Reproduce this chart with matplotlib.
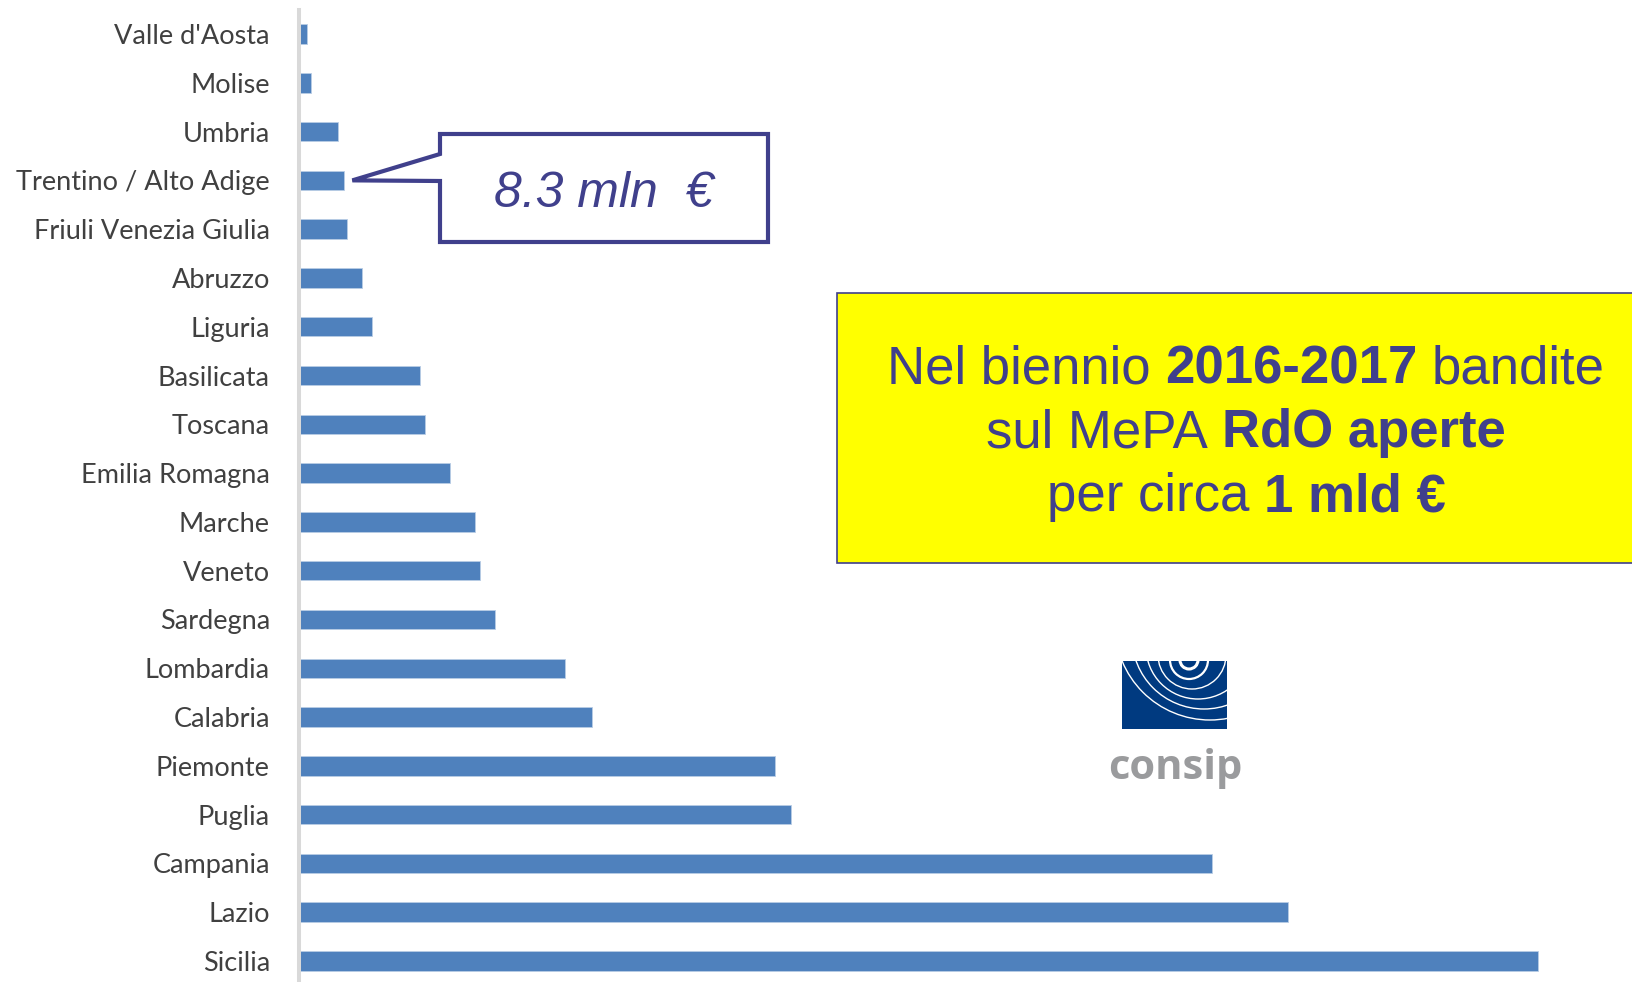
import matplotlib
matplotlib.use("Agg")
import matplotlib.pyplot as plt
from matplotlib.patches import Polygon, Rectangle, Circle

# RdO aperte sul MePA 2016-2017, importi in mln di euro
regioni = ["Valle d'Aosta", "Molise", "Umbria", "Trentino / Alto Adige",
           "Friuli Venezia Giulia", "Abruzzo", "Liguria", "Basilicata",
           "Toscana", "Emilia Romagna", "Marche", "Veneto", "Sardegna",
           "Lombardia", "Calabria", "Piemonte", "Puglia", "Campania",
           "Lazio", "Sicilia"]
importi = [1.4, 2.3, 7.3, 8.3, 8.9, 11.6, 13.5, 22.4, 23.4, 28.0,
           32.6, 33.6, 36.3, 49.4, 54.4, 88.4, 91.3, 169.3, 183.4, 229.8]

callout_idx = 3
callout_text = "8.3 mln  \u20ac"
box_lines = [
    [("Nel biennio", False), ("2016-2017", True), ("bandite", False)],
    [("sul MePA", False), ("RdO aperte", True)],
    [("per circa", False), ("1 mld \u20ac", True)],
]

W, H = 1633, 982
navy = "#40408c"

fig = plt.figure(figsize=(W / 100, H / 100), dpi=100)

def fx(px):
    return px / W

def fy(py):
    # py measured from top
    return 1 - py / H

ax = fig.add_axes([fx(299), fy(985.4), fx(W - 299), (985.4 - 9.6) / H])
ypos = list(range(len(regioni)))
ax.barh(ypos, importi, height=0.4, color="#4f81bd", edgecolor="#b9cde5", linewidth=0.6)
ax.set_ylim(len(regioni) - 0.5, -0.5)
ax.set_xlim(0, 247.5)
ax.set_yticks(ypos)
ax.set_yticklabels(regioni, fontsize=19.5, family="Lato", color="#404040")
ax.tick_params(axis="y", length=0, pad=21)
ax.set_xticks([])
for s in ["top", "right", "bottom"]:
    ax.spines[s].set_visible(False)
ax.spines["left"].set_color("#d9d9d9")
ax.spines["left"].set_linewidth(2.9)
ax.patch.set_alpha(0)

# callout pointing at the Trentino bar
fig.canvas.draw()
tip = ax.transData.transform((importi[callout_idx] + 1.6, callout_idx))
tip_px = (tip[0], H - tip[1])
pts = [(440, 134), (768, 134), (768, 242), (440, 242), (440, 181),
       tip_px, (440, 154)]
fig.patches.append(Polygon([(fx(x), fy(y)) for x, y in pts], closed=True,
                           transform=fig.transFigure, facecolor="white",
                           edgecolor=navy, linewidth=3, joinstyle="miter"))
fig.text(fx(604), fy(207), callout_text, fontsize=36, style="italic",
         family="Liberation Sans", color=navy, ha="center", va="baseline")

# yellow box
fig.patches.append(Rectangle((fx(837), fy(563)), fx(820), (563 - 293) / H,
                             transform=fig.transFigure, facecolor="#ffff00",
                             edgecolor=navy, linewidth=1.2))

renderer = fig.canvas.get_renderer()
fs = 38
t1 = fig.text(0, 0, "nn", fontsize=fs, family="Liberation Sans")
t2 = fig.text(0, 0, "n n", fontsize=fs, family="Liberation Sans")
space_w = t2.get_window_extent(renderer).width - t1.get_window_extent(renderer).width
t1.remove()
t2.remove()

cx = 1246
baselines = [383, 447, 511]
for parts, yb in zip(box_lines, baselines):
    texts = []
    widths = []
    for s, bold in parts:
        t = fig.text(0, fy(yb), s, fontsize=fs, family="Liberation Sans",
                     weight="bold" if bold else "normal", color=navy,
                     ha="left", va="baseline")
        texts.append(t)
        widths.append(t.get_window_extent(renderer).width)
    total = sum(widths) + space_w * (len(parts) - 1)
    x = cx - total / 2
    for t, w in zip(texts, widths):
        t.set_x(fx(x))
        x += w + space_w

# consip logo
lax = fig.add_axes([fx(1122), fy(729), fx(105), 68 / H])
lax.set_xlim(0, 105)
lax.set_ylim(68, 0)
lax.set_facecolor("#003a80")
lax.set_xticks([])
lax.set_yticks([])
for s in lax.spines.values():
    s.set_visible(False)
rings = [((67, -1), 9, 2.2), ((67, -1), 19, 1.6), ((70, -6), 34, 1.0),
         ((76, -14), 52, 1.0), ((82, -24), 72, 1.0), ((88, -36), 95, 1.0)]
for c, r, lw in rings:
    lax.add_patch(Circle(c, r, fill=False, edgecolor="white", linewidth=lw))
fig.text(fx(1175), fy(779), "consip", fontsize=30, weight="bold",
         family="Open Sans", color="#9a9b9d", ha="center", va="baseline")

fig.savefig("out.png", dpi=100)
